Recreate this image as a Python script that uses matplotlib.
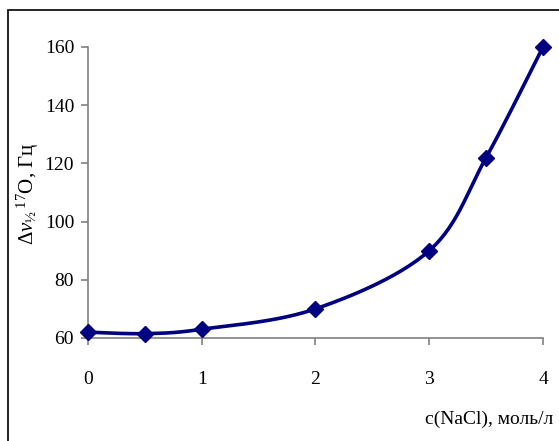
import numpy as np
import matplotlib
matplotlib.use("Agg")
import matplotlib.pyplot as plt
from matplotlib.patches import Rectangle

conc = [0, 0.5, 1, 2, 3, 3.5, 4]
width = [62, 61.5, 63, 70, 90, 122, 160]
xticks = [0, 1, 2, 3, 4]
yticks = [60, 80, 100, 120, 140, 160]

plt.rcParams["font.family"] = ["Liberation Serif", "DejaVu Serif"]
plt.rcParams["mathtext.fontset"] = "custom"
plt.rcParams["mathtext.rm"] = "Liberation Serif"
plt.rcParams["mathtext.it"] = "Liberation Serif:italic"


def smooth(x, y, n=30):
    # Excel-style smoothed line (Bezier through points)
    x = np.asarray(x, float)
    y = np.asarray(y, float)
    px, py = [], []
    for i in range(len(x) - 1):
        x0, y0 = (x[i - 1], y[i - 1]) if i > 0 else (x[i], y[i])
        x3, y3 = (x[i + 2], y[i + 2]) if i + 2 < len(x) else (x[i + 1], y[i + 1])
        c1x = x[i] + (x[i + 1] - x0) / 6
        c1y = y[i] + (y[i + 1] - y0) / 6
        c2x = x[i + 1] - (x3 - x[i]) / 6
        c2y = y[i + 1] - (y3 - y[i]) / 6
        t = np.linspace(0, 1, n)
        px.extend((1 - t) ** 3 * x[i] + 3 * (1 - t) ** 2 * t * c1x + 3 * (1 - t) * t ** 2 * c2x + t ** 3 * x[i + 1])
        py.extend((1 - t) ** 3 * y[i] + 3 * (1 - t) ** 2 * t * c1y + 3 * (1 - t) * t ** 2 * c2y + t ** 3 * y[i + 1])
    return px, py


fig = plt.figure(figsize=(5.59, 4.41), dpi=100)
ax = fig.add_axes([0.1574, 0.2336, 0.814, 0.66])

sx, sy = smooth(conc, width)
ax.plot(sx, sy, color="#000080", lw=2.6, clip_on=False, zorder=3)
ax.plot(conc, width, ls="none", marker="D", ms=8, color="#000080", clip_on=False, zorder=4)

ax.set_xlim(0, 4)
ax.set_ylim(60, 160)
ax.set_xticks(xticks)
ax.set_yticks(yticks)
for s in ["top", "right"]:
    ax.spines[s].set_visible(False)
for s in ["left", "bottom"]:
    ax.spines[s].set_color("#808080")
    ax.spines[s].set_linewidth(1.2)
ax.tick_params(axis="both", colors="#808080", labelcolor="black", labelsize=14, length=5, width=1.2)
ax.tick_params(axis="x", pad=19)
ax.tick_params(axis="y", pad=5)

fig.text(0.05, 0.56, r"$\Delta\mathit{\nu}_{½}\,^{17}$O, Гц", rotation=90,
         ha="center", va="center", fontsize=15)
fig.text(0.99, 0.05, "c(NaCl), моль/л", ha="right", va="center", fontsize=14)

fig.add_artist(Rectangle((8 / 559, -0.1), 1.2, 1 - 10 / 441 + 0.1, transform=fig.transFigure,
                         fill=False, ec="black", lw=1.2, clip_on=False))

fig.savefig("out.png", dpi=100)
